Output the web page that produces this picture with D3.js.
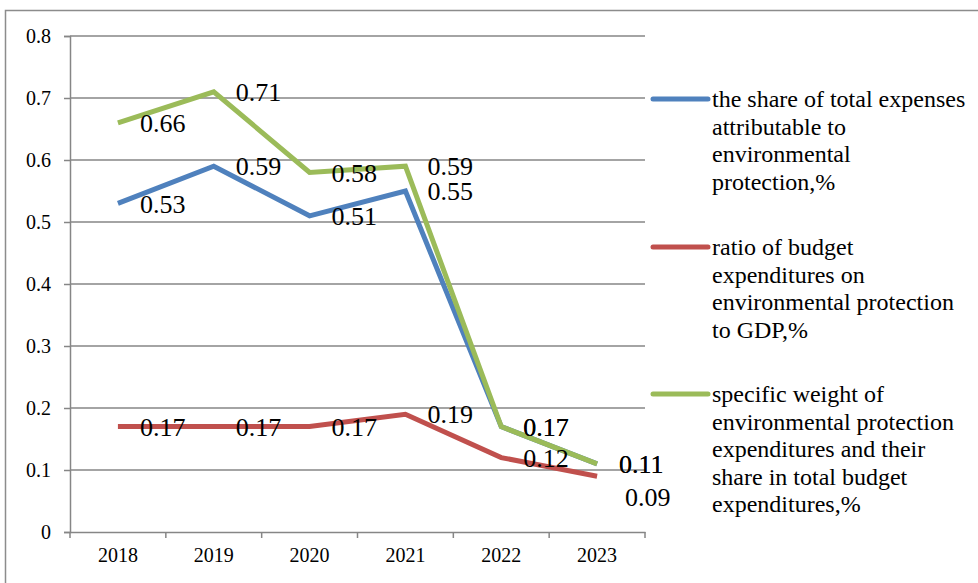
<!DOCTYPE html>
<html><head><meta charset="utf-8">
<script src="https://cdn.jsdelivr.net/npm/d3@7"></script>
<style>body{margin:0;background:#fff;}svg{display:block;} svg text{font-family:"Liberation Serif","Times New Roman","DejaVu Serif",serif !important;}</style>
</head><body>
<svg id="c" width="978" height="583"></svg>
<script>
const years = ["2018","2019","2020","2021","2022","2023"];
const shareTotal = [0.53,0.59,0.51,0.55,0.17,0.11];
const ratioGDP = [0.17,0.17,0.17,0.19,0.12,0.09];
const specificWeight = [0.66,0.71,0.58,0.59,0.17,0.11];
const yTicks = [0,0.1,0.2,0.3,0.4,0.5,0.6,0.7,0.8];
const seriesNames = [
  ["the share of total expenses","attributable to","environmental","protection,%"],
  ["ratio of budget","expenditures on","environmental protection","to GDP,%"],
  ["specific weight of","environmental protection","expenditures and their","share in total budget","expenditures,%"]
];
const series = [
  {vals: shareTotal, color:"#4F81BD", name: seriesNames[0]},
  {vals: ratioGDP, color:"#C0504D", name: seriesNames[1]},
  {vals: specificWeight, color:"#9BBB59", name: seriesNames[2]}
];
const svg = d3.select("#c");
svg.append("rect").attr("x",5.5).attr("y",10.5).attr("width",1000).attr("height",700)
  .attr("fill","none").attr("stroke","#8c8c8c").attr("stroke-width",1.5);
const L=70,R=645,T=36,B=532;
const x = d3.scaleBand().domain(years).range([L,R]);
const y = d3.scaleLinear().domain([0,0.8]).range([B,T]);
const cx = d=>x(d)+x.bandwidth()/2;
svg.append("g").selectAll("line").data(yTicks.filter(v=>v>0)).join("line")
  .attr("x1",L).attr("x2",R).attr("y1",d=>y(d)).attr("y2",d=>y(d))
  .attr("stroke","#868686").attr("stroke-width",1.5);
const ya = svg.append("g").attr("transform",`translate(${L},0)`)
  .call(d3.axisLeft(y).tickValues(yTicks).tickFormat(d=>d===0?"0":d3.format(".1f")(d)).tickSize(6).tickPadding(13));
ya.select(".domain").attr("stroke","#868686").attr("stroke-width",1.5);
ya.selectAll(".tick line").attr("stroke","#868686").attr("stroke-width",1.5);
ya.selectAll("text").attr("font-size",20).attr("fill","#000");
const xa = svg.append("g").attr("transform",`translate(0,${B})`)
  .call(d3.axisBottom(x).tickSize(0).tickPadding(16));
xa.select(".domain").attr("stroke","#868686").attr("stroke-width",1.5);
xa.selectAll("text").attr("font-size",20).attr("fill","#000");
const bounds = years.map(d=>x(d)).concat([R]);
xa.selectAll(".bt").data(bounds).join("line").attr("class","bt")
  .attr("x1",d=>d).attr("x2",d=>d).attr("y1",0).attr("y2",6)
  .attr("stroke","#868686").attr("stroke-width",1.5);
const line = d3.line().x((d,i)=>cx(years[i])).y(d=>y(d));
series.forEach(s=>{
  svg.append("path").datum(s.vals).attr("d",line).attr("fill","none")
    .attr("stroke",s.color).attr("stroke-width",5).attr("stroke-linejoin","miter");
});
series.forEach((s,si)=>{
  svg.append("g").selectAll("text").data(s.vals).join("text")
    .attr("x",(d,i)=>cx(years[i])+ (si===1&&i===5?28:22))
    .attr("y",(d,i)=>y(d)+ (si===1&&i===5?21:0))
    .attr("dy","0.35em")
    .attr("font-size",26).attr("fill","#000")
    .text(d=>d3.format(".2f")(d));
});
const legY=[99,247,394];
series.forEach((s,si)=>{
  const g = svg.append("g");
  g.append("line").attr("x1",653).attr("x2",708).attr("y1",legY[si]).attr("y2",legY[si])
    .attr("stroke",s.color).attr("stroke-width",5).attr("stroke-linecap","round");
  s.name.forEach((t,k)=>{
    g.append("text").attr("x",712).attr("y",legY[si]+k*27.5).attr("dy","0.35em")
      .attr("font-size",24).attr("fill","#000").text(t);
  });
});
</script>
</body></html>
